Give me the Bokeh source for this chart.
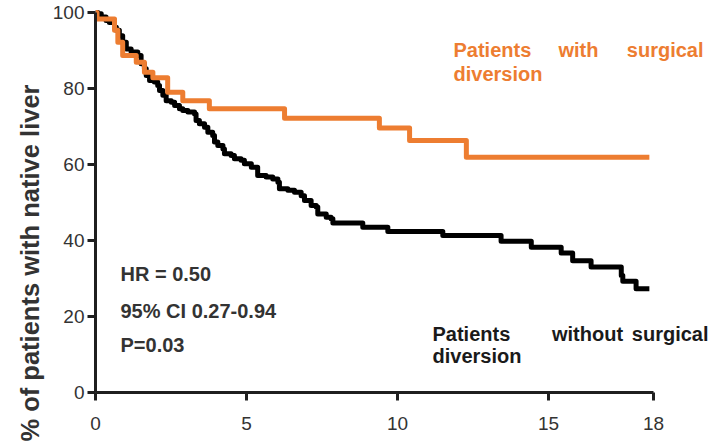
import math
from bokeh.plotting import figure
from bokeh.models import Range1d, FixedTicker, Title
from bokeh.embed import file_html
from bokeh.resources import INLINE
from bokeh.core.properties import value

# ---- data ----
months_without = [0, 0.08, 0.19, 0.35, 0.46, 0.63, 0.69, 0.79, 0.90, 1.02, 1.18, 1.40, 1.51, 1.62,
                  1.68, 1.79, 1.95, 2.06, 2.12, 2.23, 2.34, 2.51, 2.62, 2.78, 2.89, 3.06, 3.28,
                  3.33, 3.44, 3.61, 3.72, 3.88, 3.94, 4.05, 4.22, 4.27, 4.49, 4.60, 4.82, 4.93,
                  5.16, 5.37, 5.65, 5.87, 6.04, 6.09, 6.37, 6.59, 6.81, 6.92, 7.14, 7.31, 7.36,
                  7.64, 7.80, 7.86, 8.85, 9.68, 11.50, 13.43, 14.43, 15.42, 15.80, 16.41, 17.41,
                  17.46, 17.90, 18.34]
pct_without = [100, 99.7, 98.8, 97.9, 97.4, 96.1, 95.3, 93.9, 92.2, 90.4, 89.6, 88.7, 86.5, 85.2,
               83.4, 82.1, 81.7, 80.8, 79.5, 78.2, 76.8, 76.4, 75.5, 74.7, 74.2, 73.8, 73.3,
               71.6, 70.7, 69.8, 68.5, 67.6, 65.9, 65.0, 64.1, 62.8, 62.4, 61.5, 61.1, 60.2,
               59.3, 57.1, 56.7, 56.2, 55.3, 53.6, 53.2, 52.7, 51.8, 50.5, 49.2, 48.8, 47.0,
               46.1, 45.7, 44.6, 43.5, 42.4, 41.3, 39.8, 38.2, 36.7, 34.7, 33.0, 30.8,
               29.3, 27.3, 27.3]

months_with = [0, 0.05, 0.63, 0.74, 0.90, 1.35, 1.62, 1.90, 2.39, 2.89, 3.77, 6.26, 9.40, 10.40,
               12.28, 18.34]
pct_with = [100, 98.3, 95.3, 92.2, 88.7, 86.9, 84.3, 82.8, 79.0, 76.8, 74.7, 72.2, 69.6, 66.3,
            61.9, 61.9]

x_tick_values = [0, 5, 10, 15, 18.48]
x_tick_labels = ["0", "5", "10", "15", "18"]
y_tick_values = [0, 20, 40, 60, 80, 100]

y_title = "% of patients with native liver"
stats_lines = ["HR = 0.50", "95%  CI 0.27-0.94", "P=0.03"]
label_with = ["Patients", "with", "surgical", "diversion"]
label_without = ["Patients", "without", "surgical", "diversion"]

ORANGE = "#ED7D31"
DARK = "#333333"
FONT = "Liberation Sans"

# ---- figure ----
W, H = 711, 445
left, top, bottom = 95, 5, 53
px_per_x = 30.2
px_per_y = 3.8
frame_w = W - left
frame_h = H - top - bottom

p = figure(width=W, height=H, output_backend="svg", toolbar_location=None,
           min_border_left=left, min_border_right=0, min_border_top=top,
           min_border_bottom=bottom)
p.x_range = Range1d(0, frame_w / px_per_x)
p.y_range = Range1d(0, frame_h / px_per_y)
p.xgrid.visible = False
p.ygrid.visible = False
p.outline_line_color = None
p.background_fill_color = "white"
p.border_fill_color = "white"

for ax in (p.xaxis[0], p.yaxis[0]):
    ax.axis_line_width = 3
    ax.axis_line_color = "#1f1f1f"
    ax.major_tick_line_width = 3
    ax.major_tick_line_color = "#1f1f1f"
    ax.major_tick_out = 8
    ax.major_tick_in = 0
    ax.minor_tick_line_color = None
    ax.major_label_text_font = FONT
    ax.major_label_text_font_size = "19px"
    ax.major_label_text_color = DARK

p.xaxis.ticker = FixedTicker(ticks=x_tick_values)
p.xaxis.major_label_overrides = {v: s for v, s in zip(x_tick_values, x_tick_labels)}
p.xaxis.bounds = (0, x_tick_values[-1])
p.xaxis.major_label_standoff = 16
p.yaxis.ticker = FixedTicker(ticks=y_tick_values)
p.yaxis.bounds = (0, 100)
p.yaxis.major_label_standoff = 3

# curves
p.step(months_without, pct_without, mode="after", line_color="black", line_width=5,
       line_join="round")
p.step(months_with, pct_with, mode="after", line_color=ORANGE, line_width=5,
       line_join="round")

def px2x(px):
    return (px - left) / px_per_x

def py2y(py):
    return (H - bottom - py) / px_per_y

def add_text(x, y, txt, color, size, align="left"):
    p.text(x=[x], y=[y], text=[txt], text_color=color, text_font=value(FONT),
           text_font_size=size, text_font_style="bold", text_align=align,
           text_baseline="alphabetic")

# orange annotation (justified)
add_text(px2x(453), py2y(49), label_with[0], ORANGE, "20px")
add_text(px2x(578), py2y(49), label_with[1], ORANGE, "20px", "center")
add_text(px2x(703), py2y(49), label_with[2], ORANGE, "20px", "right")
add_text(px2x(453), py2y(73), label_with[3], ORANGE, "20px")

# black annotation (justified)
add_text(px2x(432), py2y(333), label_without[0], "#1a1a1a", "20px")
add_text(px2x(587), py2y(333), label_without[1], "#1a1a1a", "20px", "center")
add_text(px2x(708), py2y(333), label_without[2], "#1a1a1a", "20px", "right")
add_text(px2x(432), py2y(355), label_without[3], "#1a1a1a", "20px")

# stats
for txt, by in zip(stats_lines, [273.5, 310, 344.5]):
    add_text(px2x(120), py2y(by), txt, DARK, "20px")

# y axis title (placed as a left-side title so it can sit lower than centre)
p.add_layout(Title(text=y_title, align="right", offset=79,
                   text_font=FONT, text_font_size="25.5px", text_font_style="bold",
                   text_color=DARK, standoff=11), "left")

open("out.html", "w").write(file_html(p, INLINE))
